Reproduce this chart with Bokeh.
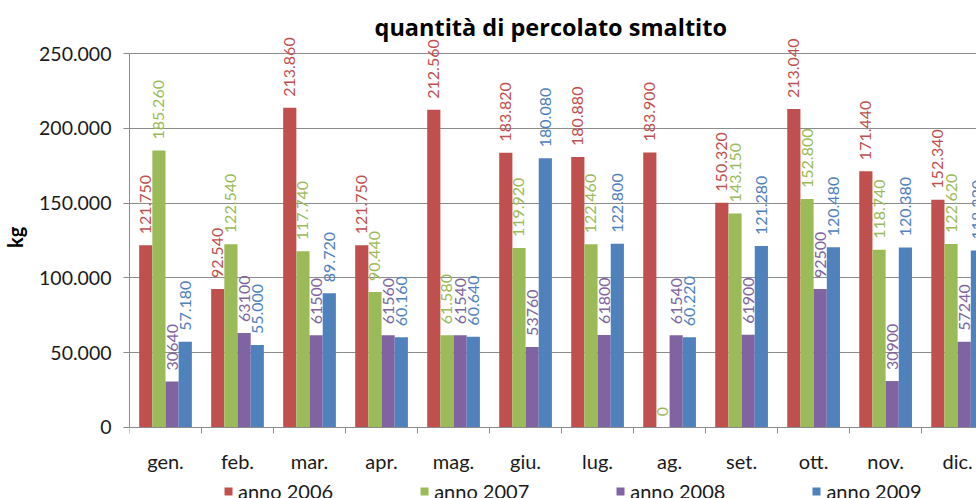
import numpy as np
from bokeh.plotting import figure
from bokeh.models import (ColumnDataSource, Range1d, FixedTicker, Legend, LegendItem, Label)
from bokeh.core.properties import value
from bokeh.embed import file_html
from bokeh.resources import INLINE

# ---- data ----
months = ["gen.", "feb.", "mar.", "apr.", "mag.", "giu.", "lug.", "ag.", "set.", "ott.", "nov.", "dic."]
anno_2006 = [121750, 92540, 213860, 121750, 212560, 183820, 180880, 183900, 150320, 213040, 171440, 152340]
anno_2007 = [185260, 122540, 117740, 90440, 61580, 119920, 122460, 0, 143150, 152800, 118740, 122620]
anno_2008 = [30640, 63100, 61500, 61560, 61540, 53760, 61800, 61540, 61900, 92500, 30900, 57240]
anno_2009 = [57180, 55000, 89720, 60160, 60640, 180080, 122800, 60220, 121280, 120480, 120380, 118320]
series_names = ["anno 2006", "anno 2007", "anno 2008", "anno 2009"]
y_ticks = [0, 50000, 100000, 150000, 200000, 250000]
y_tick_labels = ["0", "50.000", "100.000", "150.000", "200.000", "250.000"]
title_text = "quantità di percolato smaltito"
y_label = "kg"

colors = ["#C0504D", "#9BBB59", "#8064A2", "#4F81BD"]
FONT = "Lato"

def dotted(v):
    return f"{v:,}".replace(",", ".")

label_fmt = [dotted, dotted, str, dotted]

BAR_W = 0.183
X_END = 11.762
Y_TOP = 285690
Y_BOTTOM = -47740

p = figure(width=976, height=498, output_backend="svg", toolbar_location=None,
           x_range=Range1d(0, X_END), y_range=Range1d(Y_BOTTOM, Y_TOP),
           min_border_left=127, min_border_right=0, min_border_top=0, min_border_bottom=0)
p.outline_line_color = None
p.background_fill_color = "white"
p.border_fill_color = "white"

idx = np.arange(len(months)) + 0.5
renderers = []
for k, vals in enumerate([anno_2006, anno_2007, anno_2008, anno_2009]):
    xs = idx + (k - 1.5) * BAR_W
    src = ColumnDataSource(dict(x=xs, top=vals, lab=[label_fmt[k](v) for v in vals]))
    r = p.vbar(x="x", top="top", width=BAR_W, source=src, fill_color=colors[k], line_color=None)
    renderers.append(r)
    p.text(x="x", y="top", text="lab", source=src, angle=np.pi / 2, text_align="left",
           text_baseline="middle", y_offset=-11, text_color=colors[k],
           text_font=value(FONT), text_font_size="16px")

# axes
xa = p.xaxis[0]
xa.fixed_location = 0
xa.ticker = FixedTicker(ticks=list(idx), minor_ticks=list(range(len(months) + 1)))
xa.major_label_overrides = {float(i + 0.5): m for i, m in enumerate(months)}
xa.major_tick_out = 0
xa.major_tick_in = 0
xa.minor_tick_out = 6
xa.minor_tick_in = 0
xa.minor_tick_line_color = "#8c8c8c"
xa.axis_line_color = "#8c8c8c"
xa.major_label_text_font = FONT
xa.major_label_text_font_size = "20px"
xa.major_label_text_color = "#1a1a1a"
xa.major_label_standoff = 16

ya = p.yaxis[0]
ya.ticker = FixedTicker(ticks=y_ticks, minor_ticks=[])
ya.major_label_overrides = {t: s for t, s in zip(y_ticks, y_tick_labels)}
ya.bounds = (0, 250000)
ya.major_tick_out = 6
ya.major_tick_in = 0
ya.minor_tick_out = 0
ya.minor_tick_in = 0
ya.major_tick_line_color = "#8c8c8c"
ya.axis_line_color = "#8c8c8c"
ya.major_label_text_font = FONT
ya.major_label_text_font_size = "19.5px"
ya.major_label_text_color = "#1a1a1a"
ya.major_label_standoff = 12
# leading no-break spaces lift the centred "kg" onto the middle of the 0..250.000 span
ya.axis_label = "\u00a0" * 5 + y_label
ya.axis_label_text_font = FONT
ya.axis_label_text_font_style = "bold"
ya.axis_label_text_font_size = "20px"
ya.axis_label_text_color = "black"
ya.axis_label_standoff = 9

p.xgrid.visible = False
p.ygrid.ticker = FixedTicker(ticks=y_ticks)
p.ygrid.grid_line_color = "#8c8c8c"
p.ygrid.grid_line_width = 1

# title
p.add_layout(Label(x=5.85, y=267700, text=title_text, text_align="center",
                   text_baseline="alphabetic", text_font="Open Sans", text_font_style="bold",
                   text_font_size="23.5px", text_color="black"))

legend = Legend(items=[LegendItem(label=n, renderers=[r]) for n, r in zip(series_names, renderers)],
                orientation="horizontal", location=(94, -5), glyph_width=10, glyph_height=10,
                label_standoff=5, spacing=86, padding=0, margin=0, label_height=14,
                border_line_alpha=0, background_fill_alpha=0,
                label_text_font=FONT, label_text_font_size="20px", label_text_color="#1a1a1a")
p.add_layout(legend, "center")

open("out.html", "w").write(file_html(p, INLINE))
